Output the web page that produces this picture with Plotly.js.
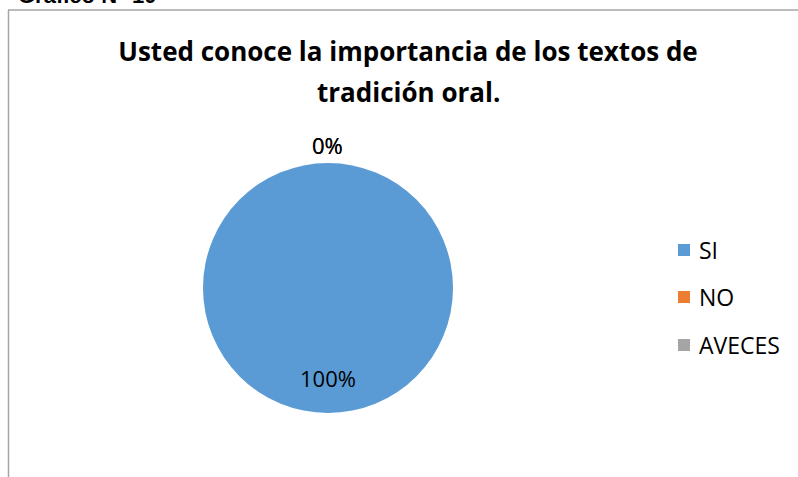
<!DOCTYPE html>
<html>
<head>
<meta charset="utf-8">
<script src="https://cdn.plot.ly/plotly-3.0.1.min.js"></script>
<style>html,body{margin:0;padding:0;background:#fff;}#chart{width:798px;height:477px;}</style>
</head>
<body>
<div id="chart"></div>
<script>
var categories = ["SI", "NO", "AVECES"];
var values = [100, 0, 0];
var colors = ["#5B9BD5", "#ED7D31", "#A5A5A5"];
var titleLines = ["Usted conoce la importancia de los textos de", "tradición oral."];
var headerText = "Gráfico N° 10";

var W = 798, H = 477;
function px(x){ return x / W; }
function py(y){ return 1 - y / H; }

var total = values.reduce(function(a,b){return a+b;}, 0);
var pct = values.map(function(v){ return Math.round(v / total * 100) + "%"; });

var trace = {
  type: "pie",
  labels: categories,
  values: values,
  marker: {colors: colors, line: {width: 0}},
  sort: false,
  direction: "clockwise",
  rotation: 0,
  textinfo: "none",
  hoverinfo: "label+percent",
  showlegend: false,
  domain: {x: [px(203), px(453)], y: [py(413), py(163)]}
};

var font = "'Open Sans', 'Noto Sans', sans-serif";
var annotations = [];
values.forEach(function(v, i){
  if (v > 0) {
    annotations.push({xref:"paper", yref:"paper", x:px(328), y:py(378), text:pct[i], showarrow:false,
      font:{family:font, size:22, color:"#000"}, xanchor:"center", yanchor:"middle"});
  } else {
    annotations.push({xref:"paper", yref:"paper", x:px(327), y:py(145), text:pct[i], showarrow:false,
      font:{family:font, size:22, color:"#000"}, xanchor:"center", yanchor:"middle"});
  }
});
// second title line
annotations.push({xref:"paper", yref:"paper", x:px(408), y:py(92), text:"<b>"+titleLines[1]+"</b>", showarrow:false,
  font:{family:font, size:26, color:"#000"}, xanchor:"center", yanchor:"middle"});
// header, cut off at top edge as in the reference
annotations.push({xref:"paper", yref:"paper", x:px(16), y:py(10), text:"<b>"+headerText+"</b>", showarrow:false,
  font:{family:"'Liberation Sans', Arial, sans-serif", size:22, color:"#000"}, xanchor:"left", yanchor:"bottom"});

var shapes = [
  {type:"line", xref:"paper", yref:"paper", x0:px(8.5), y0:0, x1:px(8.5), y1:py(10), line:{color:"#a6a6a6", width:1.5}},
  {type:"line", xref:"paper", yref:"paper", x0:px(8), y0:py(10), x1:1, y1:py(10), line:{color:"#a6a6a6", width:1.5}}
];
var legY = [250, 297, 345];
categories.forEach(function(c, i){
  shapes.push({type:"rect", xref:"paper", yref:"paper", x0:px(678), x1:px(690), y0:py(legY[i]+6), y1:py(legY[i]-6),
    fillcolor:colors[i], line:{width:0}});
  annotations.push({xref:"paper", yref:"paper", x:px(697), y:py(legY[i]), text:c, showarrow:false,
    font:{family:font, size:23, color:"#000"}, xanchor:"left", yanchor:"middle"});
});

var layout = {
  width: W, height: H,
  margin: {l:0, r:0, t:0, b:0},
  paper_bgcolor: "#fff",
  title: {text: "<b>"+titleLines[0]+"</b>", x: px(408), xanchor:"center", y: py(52), yanchor:"middle",
    font:{family:font, size:26, color:"#000"}},
  annotations: annotations,
  shapes: shapes,
  showlegend: false
};
Plotly.newPlot("chart", [trace], layout, {displayModeBar:false, staticPlot:true});
</script>
</body>
</html>
